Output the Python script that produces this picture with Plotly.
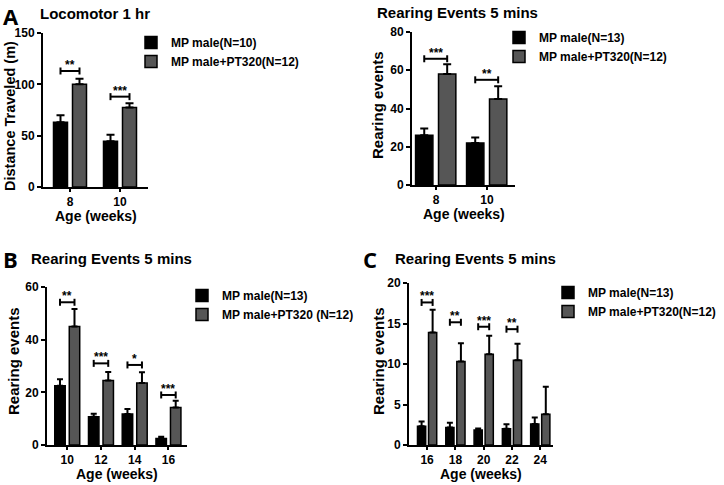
import plotly.graph_objects as go

# ---------------- data ----------------
loco_weeks = ["8", "10"]
loco_mp = [63, 44.5]
loco_mp_sem = [7, 6.5]
loco_pt = [100, 77.5]
loco_pt_sem = [5.5, 4]
loco_sig = ["**", "***"]
loco_sig_y = [113, 88]

rear1_weeks = ["8", "10"]
rear1_mp = [26, 22]
rear1_mp_sem = [3.5, 2.8]
rear1_pt = [58, 45]
rear1_pt_sem = [5.2, 6.6]
rear1_sig = ["***", "**"]
rear1_sig_y = [66, 55]

rearB_weeks = ["10", "12", "14", "16"]
rearB_mp = [22.5, 10.7, 11.8, 2.5]
rearB_mp_sem = [2.5, 1.2, 1.9, 0.6]
rearB_pt = [45, 24.5, 23.5, 14.2]
rearB_pt_sem = [6.6, 3.2, 4.1, 2.6]
rearB_sig = ["**", "***", "*", "***"]
rearB_sig_y = [54.2, 31, 30.4, 19]

rearC_weeks = ["16", "18", "20", "22", "24"]
rearC_mp = [2.3, 2.15, 1.85, 2.0, 2.6]
rearC_mp_sem = [0.6, 0.6, 0.2, 0.55, 0.8]
rearC_pt = [13.9, 10.3, 11.2, 10.45, 3.8]
rearC_pt_sem = [2.8, 2.25, 2.3, 2.05, 3.4]
rearC_sig = ["***", "**", "***", "**", ""]
rearC_sig_y = [17.6, 15.15, 14.6, 14.3, None]

W, H = 724, 485
FONT = "Liberation Sans"
BLACK = "#000000"
GREY = "#565656"


def px(x):
    return x / W


def py(y):
    return 1 - y / H


panels = [
    dict(weeks=loco_weeks, mp=loco_mp, mp_sem=loco_mp_sem, pt=loco_pt, pt_sem=loco_pt_sem,
         sig=loco_sig, sig_y=loco_sig_y,
         names=["MP male(N=10)", "MP male+PT320(N=12)"],
         xdom=(43, 148), xrange=[-0.54, 1.56], ydom=(187, 33), yrange=[0, 150], dtick=50,
         boff=-0.33, goff=0.05, bw=0.28, cap=4,
         legend=(131, 28), title="Locomotor 1 hr", title_pos=(38, 13),
         ytitle="Distance Traveled (m)", ytitle_pos=(10, 116), ytitle_size=14.5),
    dict(weeks=rear1_weeks, mp=rear1_mp, mp_sem=rear1_mp_sem, pt=rear1_pt, pt_sem=rear1_pt_sem,
         sig=rear1_sig, sig_y=rear1_sig_y,
         names=["MP male(N=13)", "MP male+PT320(N=12)"],
         xdom=(412, 515), xrange=[-0.47, 1.55], ydom=(185, 32), yrange=[0, 80], dtick=20,
         boff=-0.40, goff=0.05, bw=0.34, cap=4,
         legend=(499, 23), title="Rearing Events 5 mins", title_pos=(375, 12),
         ytitle="Rearing events", ytitle_pos=(377, 105), ytitle_size=15),
    dict(weeks=rearB_weeks, mp=rearB_mp, mp_sem=rearB_mp_sem, pt=rearB_pt, pt_sem=rearB_pt_sem,
         sig=rearB_sig, sig_y=rearB_sig_y,
         names=["MP male(N=13)", "MP male+PT320 (N=12)"],
         xdom=(47, 187), xrange=[-0.6, 3.55], ydom=(445, 287), yrange=[0, 60], dtick=20,
         boff=-0.37, goff=0.06, bw=0.31, cap=3,
         legend=(182, 281), title="Rearing Events 5 mins", title_pos=(29, 258),
         ytitle="Rearing events", ytitle_pos=(13, 361), ytitle_size=15),
    dict(weeks=rearC_weeks, mp=rearC_mp, mp_sem=rearC_mp_sem, pt=rearC_pt, pt_sem=rearC_pt_sem,
         sig=rearC_sig, sig_y=rearC_sig_y,
         names=["MP male(N=13)", "MP male+PT320(N=12)"],
         xdom=(409, 553), xrange=[-0.64, 4.45], ydom=(445, 283), yrange=[0, 20], dtick=5,
         boff=-0.34, goff=0.05, bw=0.29, cap=3,
         legend=(548, 278), title="Rearing Events 5 mins", title_pos=(393, 258),
         ytitle="Rearing events", ytitle_pos=(378, 361), ytitle_size=15),
]

fig = go.Figure()
shapes = []
annotations = []
layout = {}

for k, p in enumerate(panels):
    sfx = "" if k == 0 else str(k + 1)
    xa, ya = "x" + sfx, "y" + sfx
    leg = "legend" + sfx
    for vals, sems, off, color, name in [
        (p["mp"], p["mp_sem"], p["boff"], BLACK, p["names"][0]),
        (p["pt"], p["pt_sem"], p["goff"], GREY, p["names"][1]),
    ]:
        fig.add_trace(go.Bar(
            x=p["weeks"], y=vals, name=name, xaxis=xa, yaxis=ya, legend=leg,
            offset=off, width=p["bw"],
            marker=dict(color=color, line=dict(color=BLACK, width=1.5)),
            error_y=dict(type="data", symmetric=False, array=sems,
                         arrayminus=[0] * len(sems), color=BLACK,
                         thickness=2, width=p["cap"]),
        ))
    # significance brackets
    bc = p["boff"] + p["bw"] / 2
    gc = p["goff"] + p["bw"] / 2
    for i, (s, yv) in enumerate(zip(p["sig"], p["sig_y"])):
        if not s or yv is None:
            continue
        shapes.append(dict(type="line", xref=xa, yref=ya, x0=i + bc, x1=i + gc, y0=yv, y1=yv,
                           line=dict(color=BLACK, width=2)))
        for xe in (i + bc, i + gc):
            shapes.append(dict(type="line", xref=xa, yref=ya, ysizemode="pixel", yanchor=yv,
                               x0=xe, x1=xe, y0=-3.5, y1=3.5, line=dict(color=BLACK, width=2)))
        annotations.append(dict(text=s, xref=xa, yref=ya, x=i + (bc + gc) / 2, y=yv,
                                yanchor="bottom", yshift=-3, showarrow=False,
                                font=dict(family=FONT, size=12, color=BLACK, weight="bold")))
    # axes
    axkey = "xaxis" + sfx
    aykey = "yaxis" + sfx
    layout[axkey] = dict(domain=[px(p["xdom"][0]), px(p["xdom"][1])], range=p["xrange"],
                         type="category", anchor=ya, showline=True, linecolor=BLACK, linewidth=2,
                         ticks="outside", ticklen=3, tickwidth=1.5, tickcolor=BLACK,
                         showgrid=False, zeroline=False, fixedrange=True, automargin=False,
                         tickfont=dict(family=FONT, size=12, color=BLACK, weight="bold"))
    layout[aykey] = dict(domain=[py(p["ydom"][0]), py(p["ydom"][1])], range=p["yrange"],
                         dtick=p["dtick"], tick0=0, anchor=xa, showline=True, linecolor=BLACK,
                         linewidth=2, ticks="outside", ticklen=4, tickwidth=2, tickcolor=BLACK,
                         showgrid=False, zeroline=False, fixedrange=True, automargin=False,
                         tickfont=dict(family=FONT, size=12, color=BLACK, weight="bold"))
    layout[leg] = dict(x=px(p["legend"][0]), y=py(p["legend"][1]), xanchor="left", yanchor="top",
                       bgcolor="rgba(0,0,0,0)", tracegroupgap=0,
                       font=dict(family=FONT, size=12, color=BLACK, weight="bold"))
    # titles
    annotations.append(dict(text=p["title"], xref="paper", yref="paper",
                            x=px(p["title_pos"][0]), y=py(p["title_pos"][1]),
                            xanchor="left", yanchor="middle", showarrow=False,
                            font=dict(family=FONT, size=15, color=BLACK, weight="bold")))
    annotations.append(dict(text=p["ytitle"], xref="paper", yref="paper",
                            x=px(p["ytitle_pos"][0]), y=py(p["ytitle_pos"][1]),
                            xanchor="center", yanchor="middle", textangle=-90, showarrow=False,
                            font=dict(family=FONT, size=p["ytitle_size"], color=BLACK,
                                      weight="bold")))
    xc = (p["xdom"][0] + p["xdom"][1]) / 2
    annotations.append(dict(text="Age (weeks)", xref="paper", yref="paper",
                            x=px(xc), y=py(p["ydom"][0] + 29),
                            xanchor="center", yanchor="middle", showarrow=False,
                            font=dict(family=FONT, size=14, color=BLACK, weight="bold")))

for letter, (lx, ly) in [("A", (11, 0)), ("B", (10, 243)), ("C", (370, 243))]:
    annotations.append(dict(text=letter, xref="paper", yref="paper", x=px(lx), y=py(ly),
                            xanchor="center", yanchor="top", showarrow=False, borderpad=0,
                            font=dict(family="Open Sans", size=22, color=BLACK, weight="bold")))

fig.update_layout(**layout)
fig.update_layout(
    width=W, height=H, margin=dict(l=0, r=0, t=0, b=0, autoexpand=False),
    paper_bgcolor="white", plot_bgcolor="white",
    barmode="overlay", showlegend=True,
    shapes=shapes, annotations=annotations,
)

fig.write_html("out.html", config={"displayModeBar": False},
               post_script="document.body.style.margin='0px';")
